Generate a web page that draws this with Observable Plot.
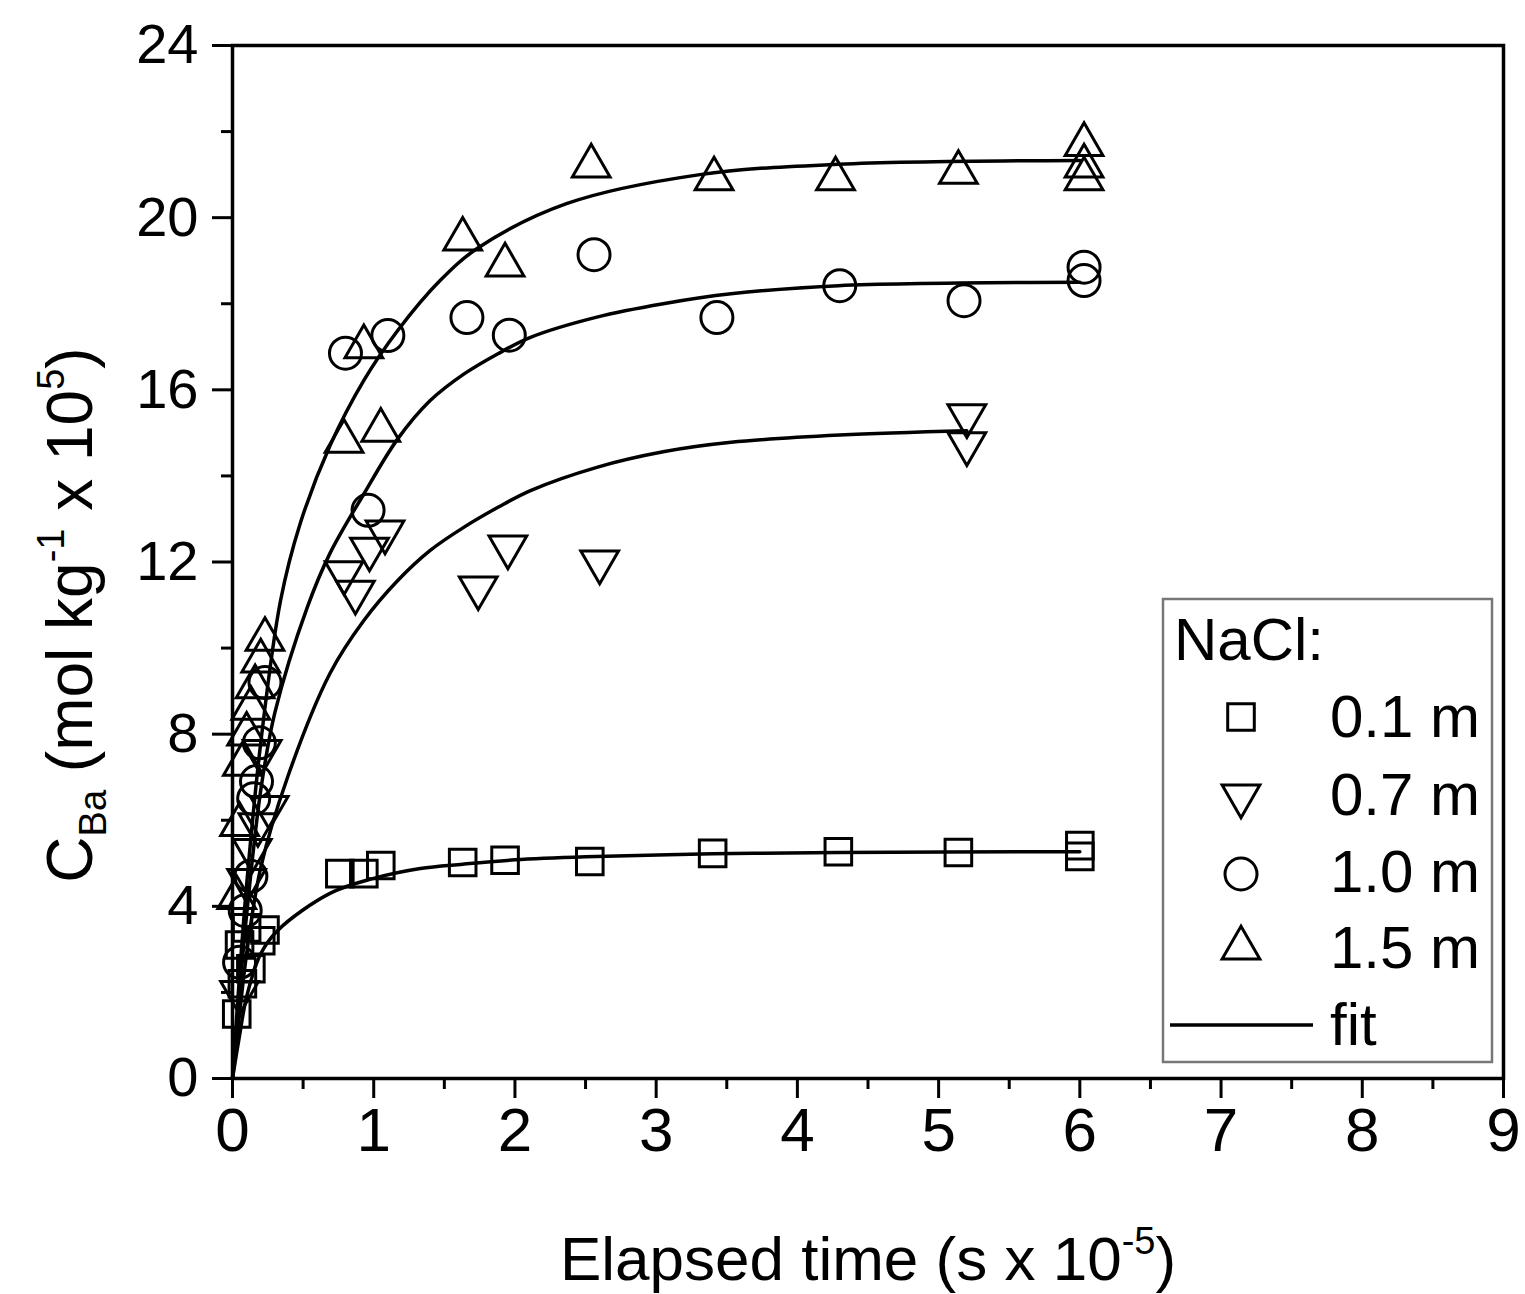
<!DOCTYPE html>
<html><head><meta charset="utf-8">
<script src="https://cdn.jsdelivr.net/npm/d3@7"></script>
<script src="https://cdn.jsdelivr.net/npm/@observablehq/plot@0.6"></script>
<style>body{margin:0;background:#fff} svg{display:block}</style>
</head><body><div id="chart"></div>
<script>
// ---- tick values ----
const xTicks = [0,1,2,3,4,5,6,7,8,9];
const xMinor = [0.5,1.5,2.5,3.5,4.5,5.5,6.5,7.5,8.5];
const yTicks = [0,4,8,12,16,20,24];
const yMinor = [2,6,10,14,18,22];

// ---- series labels ----
const seriesNames = ["0.1 m","0.7 m","1.0 m","1.5 m"];

// ---- measured points (time s x 1e-5, C_Ba mol/kg x 1e5) ----
const sq_x = [0.03,0.05,0.07,0.10,0.13,0.20,0.23,0.76,0.93,1.05,1.63,1.93,2.53,3.40,4.29,5.14,6.00,6.00];
const sq_y = [1.5,3.1,2.2,3.5,2.55,3.2,3.45,4.76,4.76,4.95,5.02,5.07,5.04,5.23,5.27,5.25,5.41,5.16];

const dn_x = [0.05,0.10,0.14,0.18,0.21,0.26,0.79,0.87,0.97,1.08,1.74,1.95,2.60,5.20,5.20];
const dn_y = [2.0,4.6,5.3,5.9,7.6,6.3,11.75,11.3,12.3,12.7,11.4,12.35,12.0,15.4,14.75];

const ci_x = [0.05,0.09,0.13,0.15,0.17,0.19,0.23,0.80,0.96,1.10,1.66,1.96,2.56,3.43,4.30,5.18,6.03,6.03];
const ci_y = [2.7,3.9,4.7,6.5,6.9,7.8,9.2,16.85,13.2,17.26,17.68,17.27,19.14,17.68,18.42,18.07,18.85,18.54];

const up_x = [0.03,0.05,0.07,0.10,0.13,0.16,0.20,0.23,0.79,0.93,1.05,1.63,1.93,2.54,3.41,4.27,5.14,6.03,6.03,6.03];
const up_y = [4.2,5.9,7.3,8.0,8.6,9.1,9.7,10.2,14.8,17.0,15.06,19.5,18.9,21.2,20.9,20.9,21.05,21.7,21.2,20.9];

// ---- fit curves ----
const fitD_x = [0,0.05,0.10,0.20,0.32,0.69,1.00,1.33,1.63,2.00,2.50,3.40,4.29,6.00];
const fitD_y = [0,1.0,1.9,2.9,3.44,4.3,4.65,4.88,4.98,5.08,5.15,5.22,5.25,5.27];
const fitC_x = [0,0.05,0.10,0.20,0.39,0.69,0.93,1.17,1.40,1.64,1.88,2.11,2.58,3.05,3.53,4.30,5.20];
const fitC_y = [0,1.5,2.9,4.9,7.0,9.41,10.64,11.57,12.27,12.81,13.27,13.66,14.2,14.56,14.78,14.95,15.05];
const fitB_x = [0,0.05,0.10,0.20,0.30,0.53,0.69,0.93,1.17,1.40,1.64,1.88,2.11,2.58,3.05,3.53,4.29,6.00];
const fitB_y = [0,2.0,3.8,6.7,8.5,10.95,12.2,13.58,14.86,15.75,16.37,16.84,17.22,17.69,18.0,18.23,18.42,18.5];
const fitA_x = [0,0.05,0.10,0.20,0.34,0.48,0.69,0.93,1.17,1.47,1.74,2.37,3.31,4.29,6.00];
const fitA_y = [0,2.4,4.5,7.8,11.1,12.9,14.7,16.22,17.38,18.54,19.3,20.33,21.0,21.24,21.33];

const zipXY = (xs, ys) => xs.map((x, i) => ({x, y: ys[i]}));

const triangleDown = {
  draw(context, size) {
    const y = -Math.sqrt(size / (Math.sqrt(3) * 3));
    context.moveTo(0, -y * 2);
    context.lineTo(-Math.sqrt(3) * y, y);
    context.lineTo(Math.sqrt(3) * y, y);
    context.closePath();
  }
};

const symSpec = [
  {sym: d3.symbolSquare, r: 15},
  {sym: triangleDown, r: 14},
  {sym: d3.symbolCircle, r: 16},
  {sym: d3.symbolTriangle, r: 14}
];
const pts = [zipXY(sq_x, sq_y), zipXY(dn_x, dn_y), zipXY(ci_x, ci_y), zipXY(up_x, up_y)];
const fits = [zipXY(fitD_x, fitD_y), zipXY(fitC_x, fitC_y), zipXY(fitB_x, fitB_y), zipXY(fitA_x, fitA_y)];

const W = 1525, H = 1294;
const FONT = "Liberation Sans, Arial, Helvetica, sans-serif";

const marks = [];
fits.forEach(f => marks.push(Plot.line(f, {x: "x", y: "y", stroke: "black", strokeWidth: 3.5, curve: "catmull-rom"})));
pts.forEach((p, i) => marks.push(Plot.dot(p, {x: "x", y: "y", symbol: symSpec[i].sym, r: symSpec[i].r, stroke: "black", strokeWidth: 3, fill: "none"})));
marks.push(Plot.axisX(xMinor, {tickSize: 11, strokeWidth: 3, tickFormat: () => "", label: null}));
marks.push(Plot.axisY(yMinor, {tickSize: 11, strokeWidth: 3, tickFormat: () => "", label: null}));
marks.push(Plot.axisX(xTicks, {tickSize: 20, tickPadding: 8, strokeWidth: 3, fontSize: 62, label: null, tickFormat: d => String(d)}));
marks.push(Plot.axisY(yTicks, {tickSize: 20, tickPadding: 14, strokeWidth: 3, fontSize: 56, label: null, tickFormat: d => String(d)}));
marks.push(Plot.frame({stroke: "black", strokeWidth: 3.5}));

const svg = Plot.plot({
  width: W, height: H,
  marginLeft: 232, marginRight: 22, marginTop: 45, marginBottom: 216,
  x: {domain: [0, 9]},
  y: {domain: [0, 24]},
  style: {fontFamily: FONT, background: "white", color: "black"},
  marks
});

const s = d3.select(svg);

// x-axis title
const xt = s.append("text").attr("x", 868).attr("y", 1280).attr("text-anchor", "middle")
  .attr("font-family", FONT).attr("font-size", 62).attr("fill", "black");
xt.append("tspan").text("Elapsed time (s x 10");
xt.append("tspan").attr("font-size", 38).attr("dy", -26).text("-5");
xt.append("tspan").attr("dy", 26).text(")");

// y-axis title
const yt = s.append("text").attr("transform", "translate(92,615) rotate(-90)").attr("text-anchor", "middle")
  .attr("font-family", FONT).attr("font-size", 64).attr("fill", "black");
yt.append("tspan").text("C");
yt.append("tspan").attr("font-size", 38).attr("dy", 14).text("Ba");
yt.append("tspan").attr("dy", -14).text(" (mol kg");
yt.append("tspan").attr("font-size", 38).attr("dy", -28).text("-1");
yt.append("tspan").attr("dy", 28).text(" x 10");
yt.append("tspan").attr("font-size", 38).attr("dy", -28).text("5");
yt.append("tspan").attr("dy", 28).text(")");

// legend
const lg = s.append("g").attr("font-family", FONT).attr("font-size", 60).attr("fill", "black").attr("text-anchor", "start");
lg.append("rect").attr("x", 1163).attr("y", 599).attr("width", 329).attr("height", 463)
  .attr("fill", "white").attr("stroke", "#777").attr("stroke-width", 2.5);
lg.append("text").attr("x", 1174).attr("y", 660).attr("text-anchor", "start").text("NaCl:");
const itemY = [717, 796, 874, 948];
const baseY = [737, 815, 892, 968];
seriesNames.forEach((name, i) => {
  lg.append("path").attr("transform", `translate(1241,${itemY[i]})`)
    .attr("d", d3.symbol(symSpec[i].sym, symSpec[i].r * symSpec[i].r * Math.PI)())
    .attr("fill", "none").attr("stroke", "black").attr("stroke-width", 3);
  lg.append("text").attr("x", 1330).attr("y", baseY[i]).attr("text-anchor", "start").text(name);
});
lg.append("line").attr("x1", 1170).attr("x2", 1313).attr("y1", 1025).attr("y2", 1025)
  .attr("stroke", "black").attr("stroke-width", 3.5);
lg.append("text").attr("x", 1330).attr("y", 1045).attr("text-anchor", "start").text("fit");

document.getElementById("chart").appendChild(svg);
</script></body></html>
